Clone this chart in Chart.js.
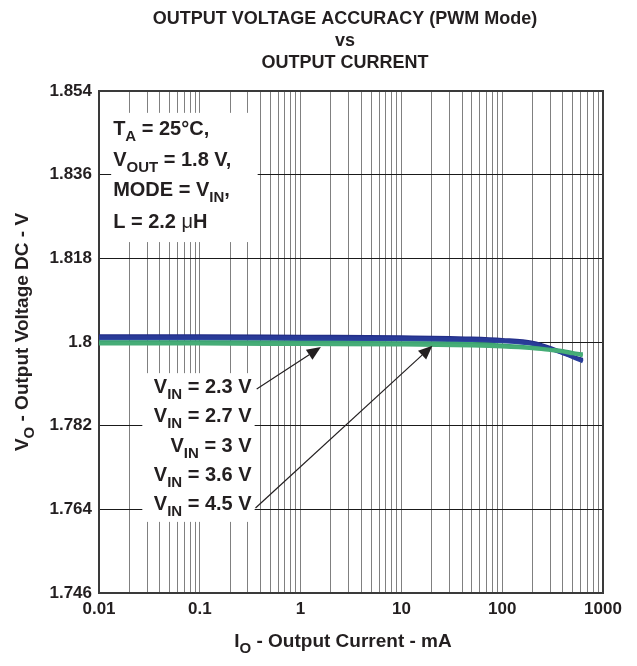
<!DOCTYPE html>
<html><head><meta charset="utf-8">
<script src="https://cdn.jsdelivr.net/npm/chart.js@4/dist/chart.umd.min.js"></script>
<style>html,body{margin:0;padding:0;background:#fff}canvas{display:block}</style>
</head><body>
<canvas id="c" width="637" height="666"></canvas>
<script>
// ---- data ----
const currents = [0.01, 0.1, 1, 10, 50, 100, 200, 300, 400, 500, 630];
const vin23 = [1.8013, 1.8013, 1.8012, 1.8011, 1.8008, 1.8005, 1.7999, 1.7988, 1.7977, 1.7969, 1.7962];
const vin27 = [1.8010, 1.8010, 1.8009, 1.8008, 1.8006, 1.8003, 1.7997, 1.7986, 1.7976, 1.7968, 1.7960];
const vin30 = [1.8007, 1.8007, 1.8006, 1.8005, 1.8003, 1.8001, 1.7995, 1.7985, 1.7975, 1.7967, 1.7958];
const vin36 = [1.8000, 1.8000, 1.7999, 1.7998, 1.7996, 1.7993, 1.7988, 1.7984, 1.7981, 1.7977, 1.7974];
const vin45 = [1.7996, 1.7996, 1.7995, 1.7994, 1.7992, 1.7990, 1.7986, 1.7982, 1.7979, 1.7975, 1.7971];
const seriesNames = ['VIN = 2.3 V', 'VIN = 2.7 V', 'VIN = 3 V', 'VIN = 3.6 V', 'VIN = 4.5 V'];
const seriesValues = [vin23, vin27, vin30, vin36, vin45];
const seriesColors = ['#232e88', '#293b98', '#2d47a1', '#3ea673', '#46ad77'];
const seriesOrder = [3, 2, 2, 1, 0];

const yTicks = [1.746, 1.764, 1.782, 1.8, 1.818, 1.836, 1.854];
const yTickLabels = ['1.746', '1.764', '1.782', '1.8', '1.818', '1.836', '1.854'];
const xDecades = [0.01, 0.1, 1, 10, 100, 1000];
const xDecadeLabels = ['0.01', '0.1', '1', '10', '100', '1000'];
const titleLines = ['OUTPUT VOLTAGE ACCURACY (PWM Mode)', 'vs', 'OUTPUT CURRENT'];
const xTitleParts = [{t:'I'}, {t:'O', sub:true}, {t:' - Output Current - mA'}];
const yTitleParts = [{t:'V'}, {t:'O', sub:true}, {t:' - Output Voltage DC - V'}];
const condLines = [
  [{t:'T'}, {t:'A', sub:true}, {t:' = 25°C,'}],
  [{t:'V'}, {t:'OUT', sub:true}, {t:' = 1.8 V,'}],
  [{t:'MODE = V'}, {t:'IN', sub:true}, {t:','}],
  [{t:'L = 2.2 '}, {t:'\u03BC', normal:true}, {t:'H'}]
];
const vinLines = [
  [{t:'V'}, {t:'IN', sub:true}, {t:' = 2.3 V'}],
  [{t:'V'}, {t:'IN', sub:true}, {t:' = 2.7 V'}],
  [{t:'V'}, {t:'IN', sub:true}, {t:' = 3 V'}],
  [{t:'V'}, {t:'IN', sub:true}, {t:' = 3.6 V'}],
  [{t:'V'}, {t:'IN', sub:true}, {t:' = 4.5 V'}]
];

// grid positions on the log axis (1..9 per decade)
const xGrid = [];
for (let d = 0; d < xDecades.length; d++) {
  const base = xDecades[d];
  const top = d === xDecades.length - 1 ? 1 : 9;
  for (let m = 1; m <= top; m++) xGrid.push(+(base * m).toPrecision(6));
}

// annotation placement in data coordinates
const condBox = {x0: 0.0132, x1: 0.375, y0: 1.8493, y1: 1.8215};
const vinBox  = {x0: 0.0269, x1: 0.350, y0: 1.7933, y1: 1.7613};
const arrows = [
  {from: [0.367, 1.7899], to: [1.59, 1.7989]},
  {from: [0.357, 1.7643], to: [20.3, 1.7992]}
];

const FONT = "'Liberation Sans', Arial, Helvetica, sans-serif";
const TXT = '#231f20';

function setFont(ctx, size, normal) {
  ctx.font = (normal ? '' : 'bold ') + size + 'px ' + FONT;
}
function richWidth(ctx, parts, size, subSize) {
  let w = 0;
  for (const p of parts) { setFont(ctx, p.sub ? subSize : size, p.normal); w += ctx.measureText(p.t).width; }
  return w;
}
function drawRich(ctx, parts, x, y, align, size, subSize, drop) {
  const w = richWidth(ctx, parts, size, subSize);
  let cx = align === 'right' ? x - w : align === 'center' ? x - w / 2 : x;
  ctx.textAlign = 'left';
  ctx.textBaseline = 'alphabetic';
  for (const p of parts) {
    setFont(ctx, p.sub ? subSize : size, p.normal);
    ctx.fillText(p.t, cx, p.sub ? y + drop : y);
    cx += ctx.measureText(p.t).width;
  }
}

const annotPlugin = {
  id: 'annot',
  beforeDatasetsDraw(chart) {
    const {ctx, chartArea: a, scales: {x, y}} = chart;
    ctx.save();
    ctx.fillStyle = '#fff';
    for (const b of [condBox, vinBox]) {
      const px0 = x.getPixelForValue(b.x0), px1 = x.getPixelForValue(b.x1);
      const py0 = y.getPixelForValue(b.y0), py1 = y.getPixelForValue(b.y1);
      ctx.fillRect(px0, py0, px1 - px0, py1 - py0);
    }
    ctx.strokeStyle = '#3a3a3a';
    ctx.lineWidth = 2;
    ctx.strokeRect(a.left, a.top, a.right - a.left, a.bottom - a.top);
    ctx.restore();
  },
  afterDatasetsDraw(chart) {
    const {ctx, scales: {x, y}} = chart;
    ctx.save();
    ctx.fillStyle = TXT;
    const cx0 = x.getPixelForValue(condBox.x0) + 2;
    const condBase = [135, 166, 196, 228];
    condLines.forEach((ln, i) => drawRich(ctx, ln, cx0, condBase[i], 'left', 20, 15, 6));
    const vx1 = x.getPixelForValue(vinBox.x1) - 3;
    const vinBase = [393, 422, 452, 481, 510];
    vinLines.forEach((ln, i) => drawRich(ctx, ln, vx1, vinBase[i], 'right', 20, 15, 6));
    ctx.strokeStyle = '#231f20';
    ctx.lineWidth = 1.2;
    for (const ar of arrows) {
      const x0 = x.getPixelForValue(ar.from[0]), y0 = y.getPixelForValue(ar.from[1]);
      const x1 = x.getPixelForValue(ar.to[0]), y1 = y.getPixelForValue(ar.to[1]);
      const ang = Math.atan2(y1 - y0, x1 - x0);
      const L = 14, W = 6;
      const bx = x1 - L * Math.cos(ang), by = y1 - L * Math.sin(ang);
      ctx.beginPath(); ctx.moveTo(x0, y0); ctx.lineTo(bx, by); ctx.stroke();
      ctx.beginPath();
      ctx.moveTo(x1, y1);
      ctx.lineTo(bx + W * Math.sin(ang), by - W * Math.cos(ang));
      ctx.lineTo(bx - W * Math.sin(ang), by + W * Math.cos(ang));
      ctx.closePath(); ctx.fill();
    }
    ctx.restore();
  },
  afterDraw(chart) {
    const {ctx} = chart;
    ctx.save();
    ctx.fillStyle = TXT;
    ctx.textAlign = 'center';
    ctx.textBaseline = 'alphabetic';
    setFont(ctx, 18);
    const tb = [24, 46, 68];
    titleLines.forEach((t, i) => ctx.fillText(t, 345, tb[i]));
    drawRich(ctx, xTitleParts, 343, 647, 'center', 19, 15, 6);
    ctx.translate(28, 332);
    ctx.rotate(-Math.PI / 2);
    drawRich(ctx, yTitleParts, 0, 0, 'center', 19, 15, 6);
    ctx.restore();
  }
};

const chart = new Chart(document.getElementById('c').getContext('2d'), {
  type: 'line',
  data: {
    datasets: seriesValues.map((vals, i) => ({
      label: seriesNames[i],
      data: currents.map((c, j) => ({x: c, y: vals[j]})),
      borderColor: seriesColors[i],
      backgroundColor: seriesColors[i],
      borderWidth: 3.5,
      pointRadius: 0,
      cubicInterpolationMode: 'monotone',
      order: seriesOrder[i],
      fill: false
    }))
  },
  options: {
    responsive: false,
    animation: false,
    devicePixelRatio: 1,
    layout: {padding: {top: 91, right: 34, left: 0, bottom: 0}},
    plugins: {legend: {display: false}, title: {display: false}, tooltip: {enabled: false}},
    scales: {
      x: {
        type: 'logarithmic', min: 0.01, max: 1000,
        afterBuildTicks: s => { s.ticks = xGrid.map(v => ({value: v})); },
        afterFit: s => { s.height = 73; },
        ticks: {
          autoSkip: false, maxRotation: 0, minRotation: 0, padding: 6, color: TXT,
          font: {family: FONT, size: 17, weight: 'bold'},
          callback: v => { const i = xDecades.findIndex(d => Math.abs(d - v) / d < 1e-6); return i >= 0 ? xDecadeLabels[i] : ''; }
        },
        grid: {color: '#808080', lineWidth: 1, drawTicks: false},
        border: {display: false}
      },
      y: {
        min: 1.746, max: 1.854,
        afterBuildTicks: s => { s.ticks = yTicks.map(v => ({value: v})); },
        afterFit: s => { s.width = 99; },
        ticks: {
          padding: 7, color: TXT,
          font: {family: FONT, size: 17, weight: 'bold'},
          callback: (v, i) => yTickLabels[i]
        },
        grid: {color: '#1a1a1a', lineWidth: 1, drawTicks: false},
        border: {display: false}
      }
    }
  },
  plugins: [annotPlugin]
});
</script>
</body></html>
